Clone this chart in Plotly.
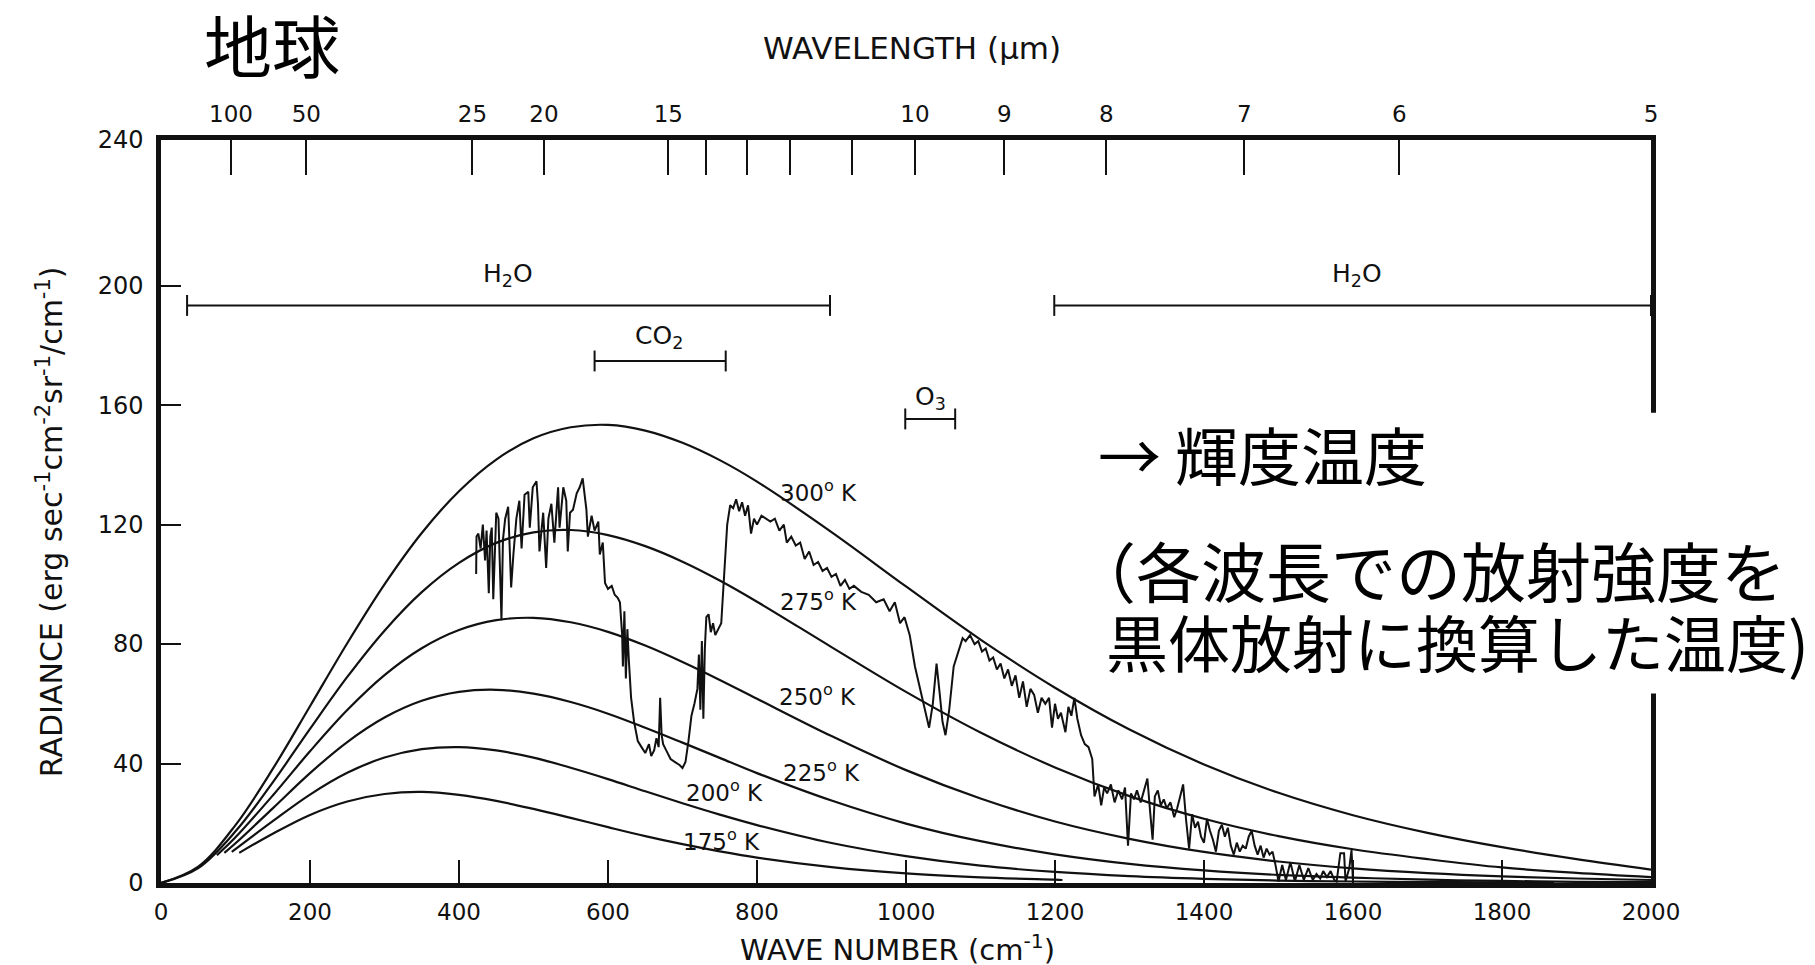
import plotly.graph_objects as go

# ---------------- data ----------------
wn_grid = [0, 50, 100, 150, 200, 250, 300, 350, 400, 450, 500, 550, 600, 650, 700, 750, 800,
           900, 1000, 1100, 1200, 1300, 1400, 1500, 1600, 1700, 1800, 1900, 2000]
rad_300 = [0, 5.5, 19.4, 38.2, 59.2, 80.3, 100.0, 117.2, 131.2, 141.8, 148.9, 152.6, 153.4, 151.5,
           147.4, 141.6, 134.4, 117.5, 99.3, 81.5, 65.4, 51.4, 39.7, 30.2, 22.7, 16.8, 12.0, 8.0, 4.5]
rad_275 = [0, 5.0, 17.3, 33.7, 51.6, 69.0, 84.5, 97.4, 107.2, 113.9, 117.4, 118.2, 116.5, 112.8,
           107.6, 101.3, 94.2, 79.0, 64.0, 50.4, 38.7, 29.1, 21.5, 15.7, 11.3, 8.0, 5.2, 3.4, 2.0]

wn_250 = [75, 100, 150, 200, 250, 300, 350, 400, 450, 500, 550, 600, 650, 700, 750, 800,
          900, 1000, 1100, 1200, 1300, 1400, 1500, 1600, 1700, 1800, 1900, 2000]
rad_250 = [9.3, 15.3, 29.3, 44.1, 57.9, 69.6, 78.6, 84.7, 88.0, 88.8, 87.3, 84.1, 79.5, 74.0, 68.0,
           61.7, 49.2, 37.8, 28.3, 20.6, 14.8, 10.4, 7.2, 4.9, 3.3, 2.2, 1.5, 1.0]

wn_225 = [85, 100, 150, 200, 250, 300, 350, 400, 450, 500, 550, 600, 650, 700, 750, 800,
          900, 1000, 1100, 1200, 1300, 1400, 1500, 1600, 1700, 1800, 1900, 2000]
rad_225 = [10.1, 13.3, 25.0, 36.8, 47.2, 55.4, 61.0, 64.0, 64.7, 63.4, 60.6, 56.7, 52.0, 47.0, 41.9,
           36.8, 27.6, 19.9, 14.0, 9.6, 6.4, 4.2, 2.7, 1.8, 1.1, 0.7, 0.4, 0.3]

wn_200 = [95, 150, 200, 250, 300, 350, 400, 450, 500, 550, 600, 650, 700, 750, 800,
          900, 1000, 1100, 1200, 1300, 1400, 1500, 1600, 1700, 1800, 1870]
rad_200 = [10.4, 20.7, 29.6, 36.9, 42.0, 44.8, 45.5, 44.4, 42.0, 38.6, 34.8, 30.7, 26.7, 22.9, 19.4,
           13.4, 9.0, 5.8, 3.7, 2.3, 1.4, 0.8, 0.5, 0.3, 0.2, 0.1]

wn_175 = [105, 150, 200, 250, 300, 350, 400, 450, 500, 550, 600, 650, 700, 750, 800,
          900, 1000, 1100, 1200, 1210]
rad_175 = [10.1, 16.5, 22.8, 27.3, 29.8, 30.5, 29.5, 27.5, 24.8, 21.8, 18.7, 15.7, 13.0, 10.6, 8.5,
           5.3, 3.2, 1.9, 1.1, 1.0]

curve_temps = ["300", "275", "250", "225", "200", "175"]

spec_wn = [423, 423.5, 426, 429, 432, 435, 437, 440, 442, 444, 446, 450, 453, 455, 457, 459, 462,
           466, 470, 473, 477, 481, 484, 488, 493, 495, 499, 504, 506, 508, 513, 517, 520, 524,
           528, 533, 535, 540, 544, 546, 549, 553, 558, 562, 566, 571, 573, 578, 582, 587, 589,
           593, 596, 600, 605, 609, 613, 616, 619, 620, 622, 624, 626, 628, 631, 635, 640, 645,
           650, 655, 658, 662, 665, 668, 670, 672, 674, 678, 684, 690, 696, 700, 704, 708, 712,
           716, 720, 722, 724, 726, 728, 730, 732, 735, 738, 741, 744, 748, 752, 756, 760, 764,
           768, 772, 776, 780, 784, 788, 792, 796, 800, 806, 812, 818, 824, 830, 836, 840, 846,
           852, 858, 864, 870, 876, 882, 888, 894, 900, 906, 912, 918, 924, 930, 940, 950, 960,
           970, 978, 985, 992, 998, 1005, 1012, 1020, 1026, 1031, 1036, 1041, 1045, 1049, 1053,
           1058, 1064, 1070, 1076, 1080, 1086, 1092, 1097, 1102, 1107, 1112, 1117, 1122, 1127,
           1132, 1137, 1142, 1147, 1152, 1157, 1162, 1167, 1172, 1177, 1182, 1187, 1192, 1196,
           1200, 1204, 1208, 1214, 1218, 1222, 1226, 1230, 1235, 1240, 1245, 1250, 1253, 1258,
           1262, 1266, 1270, 1275, 1280, 1285, 1290, 1294, 1298, 1302, 1306, 1310, 1315, 1320,
           1324, 1328, 1331, 1334, 1338, 1342, 1346, 1350, 1355, 1360, 1364, 1368, 1372, 1376,
           1380, 1384, 1388, 1392, 1396, 1400, 1404, 1408, 1412, 1416, 1420, 1424, 1428, 1432,
           1436, 1440, 1444, 1448, 1452, 1456, 1460, 1464, 1468, 1472, 1476, 1480, 1484, 1488,
           1492, 1496, 1500, 1505, 1510, 1516, 1522, 1528, 1534, 1540, 1546, 1551, 1556, 1560,
           1565, 1570, 1575, 1578, 1583, 1588, 1590, 1595, 1598, 1600]
spec_rad = [103.5, 116, 117, 112, 120, 108, 118, 97, 116, 119, 95, 124, 122, 104, 88, 115, 122,
            126, 99, 110, 122, 128, 112, 130, 131, 119, 132.5, 134.5, 127, 111, 124, 105.5, 122, 127,
            114, 132.5, 119, 132.5, 128, 111, 124, 125, 130.5, 132.5, 135.5, 125, 116, 123, 118, 121, 110,
            114, 100.5, 98.5, 99.5, 96.5, 95.5, 94, 83, 72.5, 91, 68.5, 85, 74.5, 62, 54, 47.5, 45.5,
            43.5, 46.5, 42.5, 44.5, 48.5, 45.5, 62, 49.5, 46.5, 44.5, 41.5, 40.5, 39.5, 38.5, 40.5, 47.5, 56,
            60, 65, 76.5, 58, 81, 55, 78.5, 89, 90, 84, 87, 83, 85, 87, 103.5, 120, 126.5,
            125.5, 128.5, 124.5, 127.5, 123, 126.5, 117, 122, 120, 123, 122, 121, 122, 118, 120, 114, 116,
            113, 114, 108.5, 111, 106.5, 107.5, 104.5, 105.5, 102.5, 103.5, 99.5, 101.5, 98.5, 99.5, 97.5, 96.5, 94,
            95, 91, 94, 87, 89, 83, 72.5, 64, 57, 52, 60, 73.5, 64, 54, 49.5,
            58, 72.5, 77.5, 82, 81, 83, 80, 81, 77.5, 78.5, 74.5, 75.5, 71.5, 73.5,
            68.5, 71.5, 66, 69.5, 62, 67.5, 59, 65, 63, 57, 62, 60, 62, 52,
            60, 55, 57, 50.5, 59, 56, 62, 55, 49.5, 46.5, 45.5, 41.5, 29, 33,
            26, 32, 30, 33, 27, 31, 28, 32, 12.5, 30, 28, 31, 27, 32,
            35, 23, 14.5, 29, 31, 26, 28, 25, 27, 22, 25, 29, 33, 21,
            11.5, 23, 18.5, 20.5, 15.5, 13.5, 21.5, 17.5, 14.5, 10.5, 17.5, 19.5, 15.5, 18.5,
            12.5, 9.5, 13.5, 10.5, 12.5, 11.5, 15.5, 17.5, 12.5, 9.5, 12.5, 8.5, 11.5, 9.5,
            10.5, 6, 0.5, 6, 1, 7, 0.5, 6, 1, 5, 1, 3, 1.5, 4,
            2, 4, 1, 0.5, 10, 10, 0.5, 5, 11, 0.5]

x_ticks = [0, 200, 400, 600, 800, 1000, 1200, 1400, 1600, 1800, 2000]
y_tick_vals = [0, 40, 80, 120, 160, 200, 248.8]
y_tick_text = ["0", "40", "80", "120", "160", "200", "240"]
wl_tick_pos = [94, 195, 418, 514, 681, 1012, 1132, 1269, 1454, 1662, 2000]
wl_tick_text = ["100", "50", "25", "20", "15", "10", "9", "8", "7", "6", "5"]
wl_minor_pos = [732, 786, 844, 928]

# ---------------- figure ----------------
INK = "#111111"
FONT = "DejaVu Sans"
CJK = "Noto Sans CJK JP"

fig = go.Figure()

curves = [(wn_grid, rad_300), (wn_grid, rad_275), (wn_250, rad_250),
          (wn_225, rad_225), (wn_200, rad_200), (wn_175, rad_175)]
for (xs, ys), t in zip(curves, curve_temps):
    fig.add_trace(go.Scatter(x=xs, y=ys, mode="lines", name=t + " K",
                             line=dict(color=INK, width=2.2, shape="spline", smoothing=1.0),
                             showlegend=False, hoverinfo="skip"))

fig.add_trace(go.Scatter(x=spec_wn, y=spec_rad, mode="lines", name="spectrum",
                         line=dict(color=INK, width=2), showlegend=False, hoverinfo="skip"))

# dummy trace for top (wavelength) axis
fig.add_trace(go.Scatter(x=[0, 2000], y=[None, None], xaxis="x2", mode="lines",
                         showlegend=False, hoverinfo="skip"))

# absorption band brackets
bands = [("H<sub>2</sub>O", 35, 898, 193.4, 466, 203.5),
         ("CO<sub>2</sub>", 582, 758, 174.8, 668, 183),
         ("O<sub>3</sub>", 999, 1066, 155.4, 1033, 162.5),
         ("H<sub>2</sub>O", 1199, 2000, 193.4, 1605, 203.5)]
for label, x0, x1, yb, xl, yl in bands:
    fig.add_shape(type="line", x0=x0, x1=x1, y0=yb, y1=yb, line=dict(color=INK, width=2))
    for xe in (x0, x1):
        fig.add_shape(type="line", x0=xe, x1=xe, y0=yb - 3.5, y1=yb + 3.5, line=dict(color=INK, width=2))
    fig.add_annotation(x=xl, y=yl, text=label, showarrow=False,
                       font=dict(family=FONT, size=25, color=INK))

# temperature labels
temp_pos = [(882, 131.3), (883, 94.8), (881, 62.8), (886, 37.5), (757, 30.8), (752, 14.4)]
for t, (xl, yl) in zip(curve_temps, temp_pos):
    fig.add_annotation(x=xl, y=yl, text=t + "<sup>o</sup> K", showarrow=False,
                       font=dict(family=FONT, size=23, color=INK))

# white patch interrupting the right frame behind the Japanese text
fig.add_shape(type="rect", xref="paper", yref="paper", x0=0.985, x1=1.02, y0=0.255, y1=0.633,
              fillcolor="white", line=dict(width=0), layer="above")

# Japanese texts
fig.add_annotation(xref="paper", yref="paper", x=0.0745, y=1.130, text="地球", showarrow=False,
                   xanchor="center", yanchor="middle", font=dict(family=CJK, size=68, color="black"))
fig.add_annotation(xref="paper", yref="paper", x=0.6275, y=0.580, text="→ 輝度温度", showarrow=False,
                   xanchor="left", yanchor="middle", font=dict(family=CJK, size=63, color="black"))
fig.add_annotation(xref="paper", yref="paper", x=0.6094, y=0.423, text="（各波長での放射強度を",
                   showarrow=False, xanchor="left", yanchor="middle",
                   font=dict(family=CJK, size=65, color="black"))
fig.add_annotation(xref="paper", yref="paper", x=0.6330, y=0.326, text="黒体放射に換算した温度)",
                   showarrow=False, xanchor="left", yanchor="middle",
                   font=dict(family=CJK, size=62, color="black"))

# axis titles
fig.add_annotation(xref="paper", yref="paper", x=0.504, y=1.1235, text="WAVELENGTH (μm)",
                   xanchor="center", yanchor="middle",
                   showarrow=False, font=dict(family="DejaVu Sans", size=31, color=INK))
fig.add_annotation(xref="paper", yref="paper", x=0.494, y=-0.088,
                   text="WAVE NUMBER (cm<sup>-1</sup>)", showarrow=False,
                   xanchor="center", yanchor="middle",
                   font=dict(family="DejaVu Sans", size=29, color=INK))
fig.add_annotation(xref="paper", yref="paper", x=-0.0745, y=0.487, textangle=-90,
                   text="RADIANCE (erg sec<sup>-1</sup>cm<sup>-2</sup>sr<sup>-1</sup>/cm<sup>-1</sup>)",
                   xanchor="center", yanchor="middle",
                   showarrow=False, font=dict(family="DejaVu Sans", size=30, color=INK))

fig.update_layout(
    width=1815, height=965,
    margin=dict(l=153, r=172, t=132, b=90),
    paper_bgcolor="white", plot_bgcolor="white",
    showlegend=False,
    xaxis=dict(range=[0, 2000], tickvals=x_ticks, ticks="inside", ticklen=23, tickwidth=2,
               tickcolor=INK, showline=True, linewidth=5, linecolor=INK, mirror=True,
               showgrid=False, zeroline=False, ticklabelstandoff=4,
               tickfont=dict(family=FONT, size=23, color=INK)),
    xaxis2=dict(range=[0, 2000], overlaying="x", side="top", tickvals=wl_tick_pos,
                ticktext=wl_tick_text, ticks="inside", ticklen=35, tickwidth=2, tickcolor=INK,
                minor=dict(tickmode="array", tickvals=wl_minor_pos, ticks="inside", ticklen=35,
                           tickwidth=2, tickcolor=INK, showgrid=False),
                showline=False, showgrid=False, zeroline=False, ticklabelstandoff=12,
                tickfont=dict(family=FONT, size=23, color=INK)),
    yaxis=dict(range=[0, 248.8], tickvals=y_tick_vals, ticktext=y_tick_text, ticks="inside",
               ticklen=20, tickwidth=2, tickcolor=INK, showline=True, linewidth=4.5,
               linecolor=INK, mirror=True, showgrid=False, zeroline=False, ticklabelstandoff=8,
               tickfont=dict(family=FONT, size=24, color=INK)),
)

fig.write_html("out.html")
